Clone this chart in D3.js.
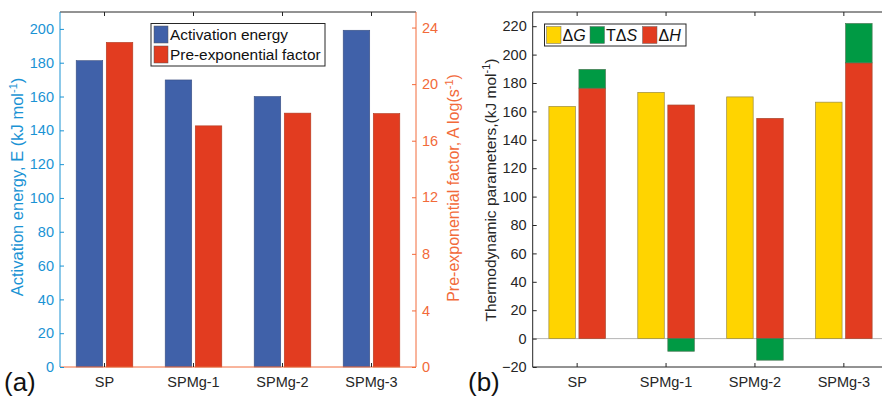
<!DOCTYPE html>
<html>
<head>
<meta charset="utf-8">
<script src="https://cdn.jsdelivr.net/npm/d3@7"></script>
<style>
  body { margin: 0; background: #fff; }
  text { font-family: "Liberation Sans", Arial, sans-serif; }
</style>
</head>
<body>
<svg id="chart" width="882" height="398"></svg>
<script>
// data
var samples = ["SP", "SPMg-1", "SPMg-2", "SPMg-3"];
var activationEnergy = [181.2, 169.8, 160.0, 199.2];
var preExpFactor = [22.95, 17.05, 17.95, 17.92];
var dG = [163.5, 173.4, 170.2, 166.5];
var dH = [176.4, 164.5, 155.1, 194.2];
var TdS = [13.2, -8.9, -15.2, 27.7];
var leftTicks = [0, 20, 40, 60, 80, 100, 120, 140, 160, 180, 200];
var rightTicks = [0, 4, 8, 12, 16, 20, 24];
var thermoTicks = [-20, 0, 20, 40, 60, 80, 100, 120, 140, 160, 180, 200, 220];

var svg = d3.select("#chart");
var yTop = 12, yBot = 367;
var dark = "#262626";
var cBlue = "#1a93d4", cOrange = "#f26a3a";
var barBlue = "#4061a9", barRed = "#e23c20", barYellow = "#ffd400", barGreen = "#009a44";

// ---------- chart (a) ----------
var ax0 = 60, ax1 = 416;
var xa = d3.scaleLinear().domain([0.5, 4.5]).range([ax0, ax1]);
var yE = d3.scaleLinear().domain([0, 210]).range([yBot, yTop]);
var yA = d3.scaleLinear().domain([0, 25.1]).range([yBot, yTop]);
var step = xa(2) - xa(1);
var off = 0.169 * step, bw = 0.298 * step;

var ga = svg.append("g");
ga.selectAll(".eb").data(activationEnergy).enter().append("rect")
  .attr("x", function(d, i) { return xa(i + 1) - off - bw / 2; })
  .attr("y", function(d) { return yE(d); })
  .attr("width", bw)
  .attr("height", function(d) { return yE(0) - yE(d); })
  .attr("fill", barBlue).attr("stroke", "#3a4f80").attr("stroke-width", 0.6);
ga.selectAll(".ab").data(preExpFactor).enter().append("rect")
  .attr("x", function(d, i) { return xa(i + 1) + off - bw / 2; })
  .attr("y", function(d) { return yA(d); })
  .attr("width", bw)
  .attr("height", function(d) { return yA(0) - yA(d); })
  .attr("fill", barRed).attr("stroke", "#b03a20").attr("stroke-width", 0.6);

// frame
ga.append("line").attr("x1", ax0).attr("x2", ax1).attr("y1", yTop).attr("y2", yTop).attr("stroke", dark);
ga.append("line").attr("x1", ax0).attr("x2", ax1).attr("y1", yBot).attr("y2", yBot).attr("stroke", cOrange);

var leftAxis = d3.axisLeft(yE).tickValues(leftTicks).tickSizeInner(-4).tickSizeOuter(0).tickPadding(6);
ga.append("g").attr("transform", "translate(" + ax0 + ",0)").call(leftAxis)
  .call(function(g) {
    g.select(".domain").attr("stroke", cBlue).attr("d", "M0," + yTop + "V" + yBot);
    g.selectAll("line").attr("stroke", cBlue);
    g.selectAll("text").attr("fill", cBlue).style("font-size", "14.5px").style("font-family", "Liberation Sans, Arial");
  });
var rightAxis = d3.axisRight(yA).tickValues(rightTicks).tickSizeInner(-4).tickSizeOuter(0).tickPadding(6);
ga.append("g").attr("transform", "translate(" + ax1 + ",0)").call(rightAxis)
  .call(function(g) {
    g.select(".domain").attr("stroke", cOrange).attr("d", "M0," + yTop + "V" + yBot);
    g.selectAll("line").attr("stroke", cOrange);
    g.selectAll("text").attr("fill", cOrange).style("font-size", "14.5px").style("font-family", "Liberation Sans, Arial");
  });
// category ticks top and bottom
ga.selectAll(".tt").data(samples).enter().append("line")
  .attr("x1", function(d, i) { return xa(i + 1); }).attr("x2", function(d, i) { return xa(i + 1); })
  .attr("y1", yTop).attr("y2", yTop + 4).attr("stroke", dark);
ga.selectAll(".bt").data(samples).enter().append("line")
  .attr("x1", function(d, i) { return xa(i + 1); }).attr("x2", function(d, i) { return xa(i + 1); })
  .attr("y1", yBot).attr("y2", yBot - 4).attr("stroke", dark);
ga.selectAll(".xl").data(samples).enter().append("text")
  .attr("x", function(d, i) { return xa(i + 1); }).attr("y", 387)
  .attr("text-anchor", "middle").attr("fill", dark).style("font-size", "14.5px")
  .text(function(d) { return d; });

// axis titles
var tE = ga.append("text").attr("transform", "translate(23,187) rotate(-90)")
  .attr("text-anchor", "middle").attr("fill", cBlue).style("font-size", "16.5px");
tE.append("tspan").text("Activation energy, E (kJ mol");
tE.append("tspan").attr("baseline-shift", "super").style("font-size", "11px").text("-1");
tE.append("tspan").text(")");
var tA = ga.append("text").attr("transform", "translate(459,188) rotate(-90)")
  .attr("text-anchor", "middle").attr("fill", cOrange).style("font-size", "16px");
tA.append("tspan").text("Pre-exponential factor, A log(s");
tA.append("tspan").attr("baseline-shift", "super").style("font-size", "11px").text("-1");
tA.append("tspan").text(")");

// legend (a)
ga.append("rect").attr("x", 151).attr("y", 23.5).attr("width", 174).attr("height", 42.5)
  .attr("fill", "#fff").attr("stroke", dark).attr("stroke-width", 1);
var legA = [{ label: "Activation energy", color: barBlue }, { label: "Pre-exponential factor", color: barRed }];
legA.forEach(function(l, i) {
  ga.append("rect").attr("x", 154).attr("y", 26 + i * 20).attr("width", 14).attr("height", 17)
    .attr("fill", l.color).attr("stroke", "#555").attr("stroke-width", 0.5);
  ga.append("text").attr("x", 170).attr("y", 40 + i * 20).attr("fill", "#111")
    .style("font-size", "15.4px").text(l.label);
});
ga.append("text").attr("x", 4).attr("y", 391).attr("fill", "#111").style("font-size", "26px").text("(a)");

// ---------- chart (b) ----------
var bx0 = 532.7, bx1 = 888.3;
var xb = d3.scaleLinear().domain([0.5, 4.5]).range([bx0, bx1]);
var yT = d3.scaleLinear().domain([-20, 230]).range([yBot, yTop]);
var stepB = xb(2) - xb(1);
var offB = 0.169 * stepB, bwB = 0.298 * stepB;

var gb = svg.append("g");
gb.append("line").attr("x1", bx0).attr("x2", bx1).attr("y1", yT(0)).attr("y2", yT(0)).attr("stroke", "#b5b5b5");

gb.selectAll(".gb").data(dG).enter().append("rect")
  .attr("x", function(d, i) { return xb(i + 1) - offB - bwB / 2; })
  .attr("y", function(d) { return yT(d); })
  .attr("width", bwB).attr("height", function(d) { return yT(0) - yT(d); })
  .attr("fill", barYellow).attr("stroke", "#9a8a40").attr("stroke-width", 0.7);
gb.selectAll(".hb").data(dH).enter().append("rect")
  .attr("x", function(d, i) { return xb(i + 1) + offB - bwB / 2; })
  .attr("y", function(d) { return yT(d); })
  .attr("width", bwB).attr("height", function(d) { return yT(0) - yT(d); })
  .attr("fill", barRed).attr("stroke", "#a84a30").attr("stroke-width", 0.7);
gb.selectAll(".sb").data(TdS).enter().append("rect")
  .attr("x", function(d, i) { return xb(i + 1) + offB - bwB / 2; })
  .attr("y", function(d, i) { return d >= 0 ? yT(dH[i] + d) : yT(0); })
  .attr("width", bwB).attr("height", function(d) { return Math.abs(yT(0) - yT(d)); })
  .attr("fill", barGreen).attr("stroke", "#4a7a55").attr("stroke-width", 0.7);

gb.append("line").attr("x1", bx0).attr("x2", bx1).attr("y1", yTop).attr("y2", yTop).attr("stroke", dark);
gb.append("line").attr("x1", bx0).attr("x2", bx1).attr("y1", yBot).attr("y2", yBot).attr("stroke", dark);
var thermoAxis = d3.axisLeft(yT).tickValues(thermoTicks).tickSizeInner(-4).tickSizeOuter(0).tickPadding(6);
gb.append("g").attr("transform", "translate(" + bx0 + ",0)").call(thermoAxis)
  .call(function(g) {
    g.select(".domain").attr("stroke", dark).attr("d", "M0," + yTop + "V" + yBot);
    g.selectAll("line").attr("stroke", dark);
    g.selectAll("text").attr("fill", dark).style("font-size", "14.5px").style("font-family", "Liberation Sans, Arial");
  });
gb.selectAll(".tt").data(samples).enter().append("line")
  .attr("x1", function(d, i) { return xb(i + 1); }).attr("x2", function(d, i) { return xb(i + 1); })
  .attr("y1", yTop).attr("y2", yTop + 4).attr("stroke", dark);
gb.selectAll(".bt").data(samples).enter().append("line")
  .attr("x1", function(d, i) { return xb(i + 1); }).attr("x2", function(d, i) { return xb(i + 1); })
  .attr("y1", yBot).attr("y2", yBot - 4).attr("stroke", dark);
gb.selectAll(".xl").data(samples).enter().append("text")
  .attr("x", function(d, i) { return xb(i + 1); }).attr("y", 387)
  .attr("text-anchor", "middle").attr("fill", dark).style("font-size", "14.5px")
  .text(function(d) { return d; });

var tT = gb.append("text").attr("transform", "translate(496,190) rotate(-90)")
  .attr("text-anchor", "middle").attr("fill", dark).style("font-size", "15.5px");
tT.append("tspan").text("Thermodynamic parameters,(kJ mol");
tT.append("tspan").attr("baseline-shift", "super").style("font-size", "11px").text("-1");
tT.append("tspan").text(")");

// legend (b)
gb.append("rect").attr("x", 544.5).attr("y", 24).attr("width", 141.5).attr("height", 22)
  .attr("fill", "#fff").attr("stroke", dark).attr("stroke-width", 1);
var legB = [
  { pre: "\u0394", it: "G", color: barYellow, x: 546.5 },
  { pre: "T\u0394", it: "S", color: barGreen, x: 590 },
  { pre: "\u0394", it: "H", color: barRed, x: 642.5 }
];
legB.forEach(function(l) {
  gb.append("rect").attr("x", l.x).attr("y", 26.5).attr("width", 14.5).attr("height", 17)
    .attr("fill", l.color).attr("stroke", "#666").attr("stroke-width", 0.5);
  var t = gb.append("text").attr("x", l.x + 16).attr("y", 41).attr("fill", "#111").style("font-size", "16px");
  t.append("tspan").text(l.pre);
  t.append("tspan").style("font-style", "italic").text(l.it);
});
gb.append("text").attr("x", 468).attr("y", 391).attr("fill", "#111").style("font-size", "26px").text("(b)");
</script>
</body>
</html>
